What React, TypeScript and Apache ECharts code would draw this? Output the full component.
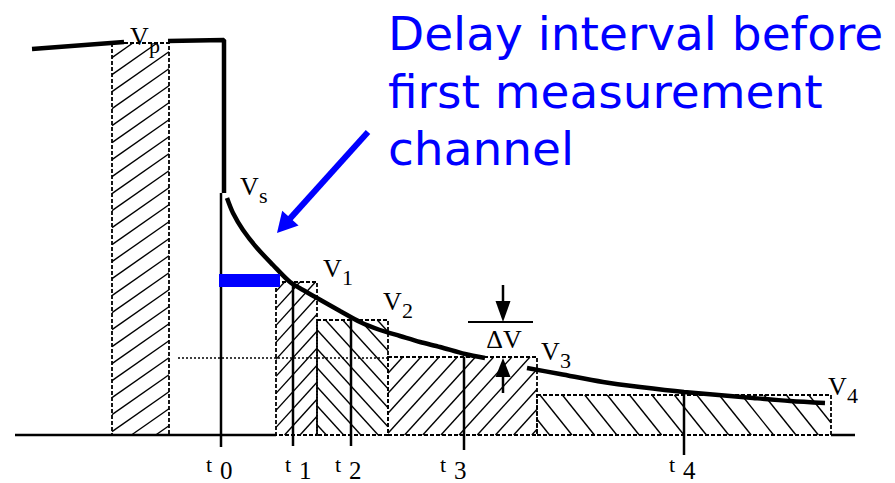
import React, { useEffect, useRef } from "react";
import * as echarts from "echarts";

// ---- axis extents: time (x) and voltage (y, baseline at 0) ----
const T_MIN = 0;
const T_MAX = 895;
const V_MIN = -48;
const V_MAX = 435;

// ---- waveform ----
const primaryBefore: number[][] = [[32, 386], [124, 393]];
const primaryAfter: number[][] = [[168, 394], [224, 395], [224, 242]];
const decayEarly: number[][] = [
  [227, 237], [233, 222], [243, 205], [257, 187], [273, 170], [290, 153],
  [303, 145], [317, 137], [340, 124], [360, 113], [380, 105], [400, 99],
  [420, 93], [440, 88], [465, 81], [485, 77],
];
const decayLate: number[][] = [
  [527, 67], [560, 61], [603, 53], [640, 48], [684, 43], [753, 37], [790, 34], [825, 32],
];

// ---- measurement channels (hatched bars) ----
const channelStart = [112, 276, 317, 388, 537];
const channelEnd = [169, 317, 388, 537, 831];
const channelLevel = [392, 153, 115, 78, 40];
const channelHatch = ["/", "/", "\\", "/", "\\"];

// ---- delay interval (blue bar) ----
const delayStart = 219;
const delayEnd = 280;
const delayLow = 148;
const delayHigh = 161;

// ---- time ticks ----
const tickTimes = [221, 293, 351, 464, 684];
const tickTops = [242, 153, 115, 78, 43];
const tickBottoms = [-12, -11, -11, -15, -20];
const tickSubs = ["0", "1", "2", "3", "4"];
const tickLabelTimes = [221, 300, 350, 455, 684];

// ---- baseline & reference lines ----
const baselineSegments: number[][] = [[15, 276], [831, 855]];
const refLevel = 77;
const refFrom = 178;
const refTo = 388;
const deltaTop = 113;
const deltaFrom = 468;
const deltaTo = 533;

// ---- arrows: [fromT, fromV, toT, toV] ----
const arrows: number[][] = [
  [368, 303, 277, 202],
  [503, 150, 503, 113],
  [503, 42, 503, 77],
];

// ---- voltage labels (baseline anchor) ----
const voltageLabelMain = ["V", "V", "V", "V", "V", "V"];
const voltageLabelSub = ["p", "s", "1", "2", "3", "4"];
const voltageLabelT = [130, 240, 323, 383, 541, 828];
const voltageLabelV = [390, 240, 158, 125, 75, 40];

const deltaLabel = "ΔV";
const deltaLabelT = 504;
const deltaLabelV = 87;

const noteLines = ["Delay interval before", "first measurement", "channel"];
const noteT = 388;
const noteV = [385, 327, 270];

// ---- styles ----
const BLUE = "#0000ff";
const BLACK = "#000000";
const SERIF = '"Liberation Serif", "Times New Roman", serif';
const SANS = '"DejaVu Sans", Verdana, sans-serif';
const hatchSlope = [0.7, 1.1, 1.1, 1.1, 1.25];
const hatchStep = [17, 17, 19, 20, 28];
const arrowColor = [BLUE, BLACK, BLACK];
const arrowShaft = [6, 2.5, 2.5];
const arrowHeadLen = [20, 21, 19];
const arrowHeadW = [22, 15, 15];

function hatchLines(L: number, R: number, T: number, B: number, dir: string, k: number, s: number) {
  const out: any[] = [];
  if (dir === "/") {
    const cMin = T + k * L;
    const cMax = B + k * R;
    for (let c = Math.ceil(cMin / s) * s; c <= cMax; c += s) {
      const xa = Math.max(L, (c - B) / k);
      const xb = Math.min(R, (c - T) / k);
      if (xb - xa > 0.5) out.push([xa, c - k * xa, xb, c - k * xb]);
    }
  } else {
    const cMin = T - k * R;
    const cMax = B - k * L;
    for (let c = Math.ceil(cMin / s) * s; c <= cMax; c += s) {
      const xa = Math.max(L, (T - c) / k);
      const xb = Math.min(R, (B - c) / k);
      if (xb - xa > 0.5) out.push([xa, c + k * xa, xb, c + k * xb]);
    }
  }
  return out;
}

function textEl(x: number, baselineY: number, text: string, size: number, family: string, color: string, align: string, factor: number) {
  return {
    type: "text",
    x,
    y: baselineY - factor * size,
    style: {
      text,
      font: `${size}px ${family}`,
      fill: color,
      align,
      textAlign: align,
      verticalAlign: "middle",
      textVerticalAlign: "middle",
    },
  };
}

const SERIF_F = 0.3375;
const SANS_F = 0.346;

export default function App() {
  const ref = useRef<HTMLDivElement>(null);
  useEffect(() => {
    if (!ref.current) return;
    const chart = echarts.init(ref.current, undefined, { renderer: "svg" });

    const curveStyle = { color: BLACK, width: 4.5, cap: "butt" };
    const lineBase = {
      type: "line",
      symbol: "none",
      silent: true,
      z: 3,
    };

    const option: any = {
      animation: false,
      grid: { left: 0, right: 0, top: 0, bottom: 0 },
      xAxis: { type: "value", min: T_MIN, max: T_MAX, show: false },
      yAxis: { type: "value", min: V_MIN, max: V_MAX, show: false },
      series: [
        // hatched channel bars
        {
          type: "custom",
          silent: true,
          z: 1,
          data: channelStart.map((s, i) => [s, channelEnd[i], channelLevel[i]]),
          renderItem: (params: any, api: any) => {
            const i = params.dataIndex;
            const p0 = api.coord([api.value(0), 0]);
            const p1 = api.coord([api.value(1), api.value(2)]);
            const L = p0[0], R = p1[0], T = p1[1], B = p0[1];
            const segs = hatchLines(L, R, T, B, channelHatch[i], hatchSlope[i], hatchStep[i]);
            return {
              type: "group",
              children: [
                ...segs.map((g) => ({
                  type: "line",
                  shape: { x1: g[0], y1: g[1], x2: g[2], y2: g[3] },
                  style: { stroke: BLACK, lineWidth: 1.4 },
                })),
                {
                  type: "rect",
                  shape: { x: L, y: T, width: R - L, height: B - T },
                  style: { fill: "none", stroke: BLACK, lineWidth: 1.8, lineDash: [4, 2] },
                },
              ],
            };
          },
        },
        // baseline segments
        {
          type: "custom",
          silent: true,
          z: 2,
          data: baselineSegments,
          renderItem: (params: any, api: any) => {
            const a = api.coord([api.value(0), 0]);
            const b = api.coord([api.value(1), 0]);
            return {
              type: "line",
              shape: { x1: a[0], y1: a[1], x2: b[0], y2: b[1] },
              style: { stroke: BLACK, lineWidth: 2.5 },
            };
          },
        },
        // time ticks
        {
          type: "custom",
          silent: true,
          z: 2,
          data: tickTimes.map((t, i) => [t, tickTops[i], tickBottoms[i]]),
          renderItem: (params: any, api: any) => {
            const a = api.coord([api.value(0), api.value(1)]);
            const b = api.coord([api.value(0), api.value(2)]);
            return {
              type: "line",
              shape: { x1: a[0], y1: a[1], x2: b[0], y2: b[1] },
              style: { stroke: BLACK, lineWidth: 2.5 },
            };
          },
        },
        // dotted reference line and delta bar
        {
          type: "custom",
          silent: true,
          z: 2,
          data: [
            [refFrom, refLevel, refTo, refLevel, 0],
            [deltaFrom, deltaTop, deltaTo, deltaTop, 1],
          ],
          renderItem: (params: any, api: any) => {
            const a = api.coord([api.value(0), api.value(1)]);
            const b = api.coord([api.value(2), api.value(3)]);
            const dotted = api.value(4) === 0;
            return {
              type: "line",
              shape: { x1: a[0], y1: a[1], x2: b[0], y2: b[1] },
              style: dotted
                ? { stroke: BLACK, lineWidth: 1.3, lineDash: [2, 2] }
                : { stroke: BLACK, lineWidth: 2 },
            };
          },
        },
        // waveform
        { ...lineBase, data: primaryBefore, lineStyle: curveStyle },
        { ...lineBase, data: primaryAfter, lineStyle: curveStyle },
        { ...lineBase, data: decayEarly, smooth: 0.3, lineStyle: curveStyle },
        { ...lineBase, data: decayLate, smooth: 0.3, lineStyle: curveStyle },
        // delay interval bar
        {
          type: "custom",
          silent: true,
          z: 4,
          data: [[delayStart, delayEnd, delayLow, delayHigh]],
          renderItem: (params: any, api: any) => {
            const a = api.coord([api.value(0), api.value(3)]);
            const b = api.coord([api.value(1), api.value(2)]);
            return {
              type: "rect",
              shape: { x: a[0], y: a[1], width: b[0] - a[0], height: b[1] - a[1] },
              style: { fill: BLUE },
            };
          },
        },
        // arrows
        {
          type: "custom",
          silent: true,
          z: 4,
          data: arrows,
          renderItem: (params: any, api: any) => {
            const i = params.dataIndex;
            const p1 = api.coord([api.value(0), api.value(1)]);
            const p2 = api.coord([api.value(2), api.value(3)]);
            const dx = p2[0] - p1[0];
            const dy = p2[1] - p1[1];
            const len = Math.hypot(dx, dy);
            const ux = dx / len, uy = dy / len;
            const px = -uy, py = ux;
            const hl = arrowHeadLen[i];
            const hw = arrowHeadW[i];
            const bx = p2[0] - ux * hl, by = p2[1] - uy * hl;
            const c = arrowColor[i];
            return {
              type: "group",
              children: [
                {
                  type: "line",
                  shape: { x1: p1[0], y1: p1[1], x2: bx + ux * 2, y2: by + uy * 2 },
                  style: { stroke: c, lineWidth: arrowShaft[i] },
                },
                {
                  type: "polygon",
                  shape: {
                    points: [
                      [p2[0], p2[1]],
                      [bx + (px * hw) / 2, by + (py * hw) / 2],
                      [bx - (px * hw) / 2, by - (py * hw) / 2],
                    ],
                  },
                  style: { fill: c },
                },
              ],
            };
          },
        },
        // voltage labels
        {
          type: "custom",
          silent: true,
          z: 5,
          data: voltageLabelT.map((t, i) => [t, voltageLabelV[i]]),
          renderItem: (params: any, api: any) => {
            const i = params.dataIndex;
            const p = api.coord([api.value(0), api.value(1)]);
            return {
              type: "group",
              children: [
                textEl(p[0], p[1], voltageLabelMain[i], 26, SERIF, BLACK, "left", SERIF_F),
                textEl(p[0] + 19, p[1] + 8, voltageLabelSub[i], 22, SERIF, BLACK, "left", SERIF_F),
              ],
            };
          },
        },
        // time labels
        {
          type: "custom",
          silent: true,
          z: 5,
          data: tickLabelTimes.map((t) => [t, 0]),
          renderItem: (params: any, api: any) => {
            const i = params.dataIndex;
            const p = api.coord([api.value(0), api.value(1)]);
            return {
              type: "group",
              children: [
                textEl(p[0] - 9, p[1] + 37, "t", 22, SERIF, BLACK, "right", SERIF_F),
                textEl(p[0] - 1, p[1] + 44, tickSubs[i], 25, SERIF, BLACK, "left", SERIF_F),
              ],
            };
          },
        },
        // delta label
        {
          type: "custom",
          silent: true,
          z: 5,
          data: [[deltaLabelT, deltaLabelV]],
          renderItem: (params: any, api: any) => {
            const p = api.coord([api.value(0), api.value(1)]);
            return textEl(p[0], p[1], deltaLabel, 26, SERIF, BLACK, "center", SERIF_F);
          },
        },
        // note text
        {
          type: "custom",
          silent: true,
          z: 5,
          data: noteV.map((v) => [noteT, v]),
          renderItem: (params: any, api: any) => {
            const i = params.dataIndex;
            const p = api.coord([api.value(0), api.value(1)]);
            return textEl(p[0], p[1], noteLines[i], 47, SANS, BLUE, "left", SANS_F);
          },
        },
      ],
    };
    chart.setOption(option);
    return () => chart.dispose();
  }, []);

  return (
    <div
      ref={ref}
      style={{ position: "absolute", left: 0, top: 0, width: 895, height: 483, background: "#ffffff" }}
    />
  );
}
